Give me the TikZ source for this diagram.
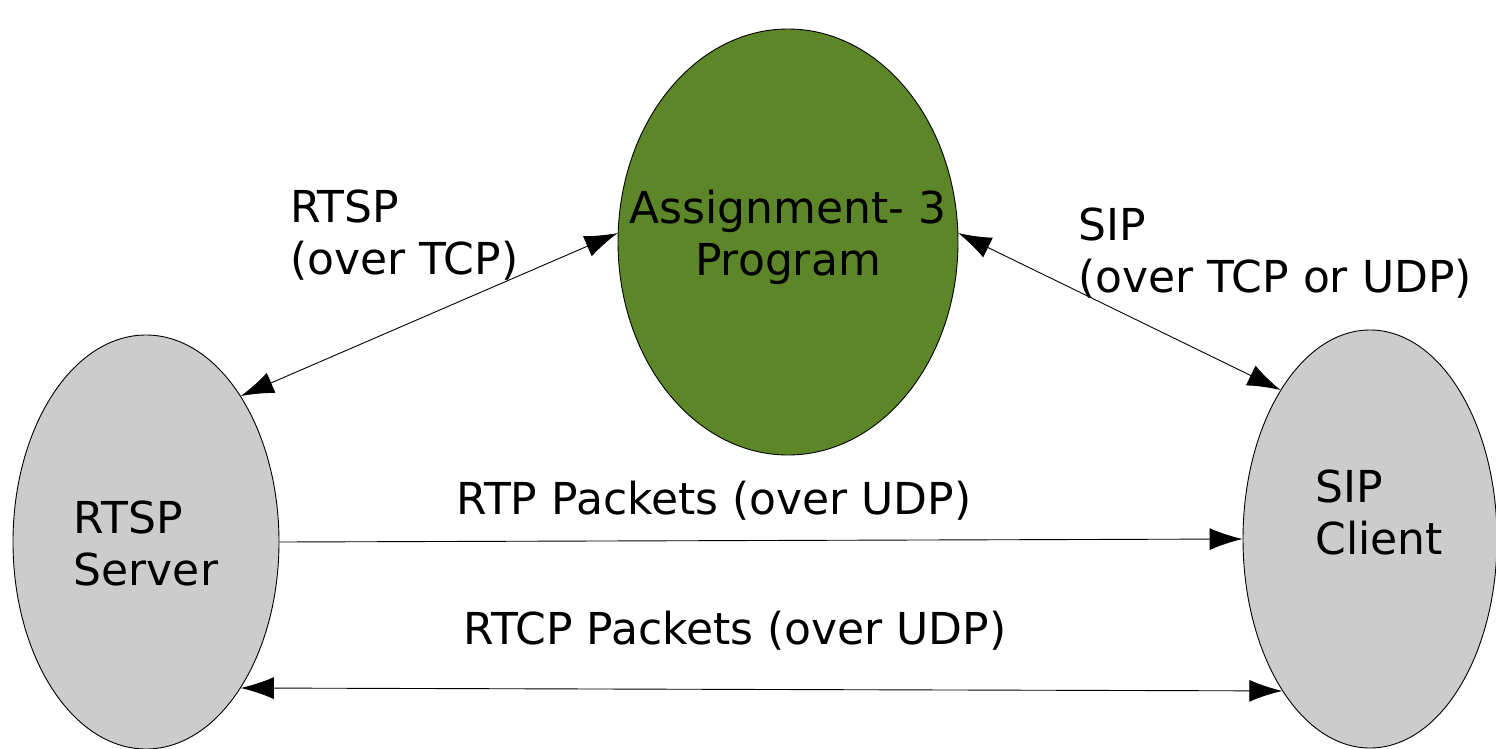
\documentclass[tikz,border=0pt]{standalone}
\usepackage{fontspec}
\setmainfont{DejaVu Sans}
\usepackage{tikz}
\usetikzlibrary{shapes.geometric,arrows.meta}
\definecolor{programGreen}{HTML}{5D8628}
\definecolor{hostGray}{HTML}{CCCCCC}

\begin{document}
\begin{tikzpicture}[
  x=1pt, y=-1pt,
  every host/.style={
    ellipse,
    draw=black,
    line width=0.9pt,
    inner sep=0pt,
  },
  client host/.style={
    every host/.try,
    fill=hostGray,
  },
  program host/.style={
    every host/.try,
    fill=programGreen,
  },
  every caption/.style={
    inner sep=0pt,
    font=\fontsize{44}{52}\selectfont,
  },
  link/.style={
    line width=0.9pt,
    {Latex[length=33pt,width=22pt]}-{Latex[length=33pt,width=22pt]}
  },
  oneway/.style={
    line width=0.9pt,
    -{Latex[length=33pt,width=22pt]}
  }
]
\useasboundingbox (0,0) rectangle (1496,749);
\node[client host,minimum width=266pt,minimum height=414pt] (srv) at (146,542) {};
\node[program host,minimum width=340pt,minimum height=426pt] (prog) at (788,242) {};
\node[client host,minimum width=254pt,minimum height=418pt] (cli) at (1370,539) {};
% texts inside the hosts
\node[every caption,align=left] (srvText) at (146,543) {RTSP\\Server};
\node[every caption,align=center] (progText) at (788,237) {Assignment- 3\\Program};
\node[every caption,align=left] (cliText) at (1379,512) {SIP\\Client};
% connections
\draw[link] (srv.57) -- (prog.177);
\draw[link] (prog.3) -- (cli.121);
\draw[oneway] (srv.east) -- (cli.west);
\draw[link] (srv.-57) -- (cli.-120);
% labels of the connections
\node[every caption,align=left,anchor=west] (rtspText) at (290,235) {RTSP\\(over TCP)};
\node[every caption,align=left,anchor=west] (sipText) at (1078,253) {SIP\\(over TCP or UDP)};
\node[every caption] (rtpText) at (714,501) {RTP Packets (over UDP)};
\node[every caption] (rtcpText) at (735,631) {RTCP Packets (over UDP)};
\end{tikzpicture}
\end{document}
